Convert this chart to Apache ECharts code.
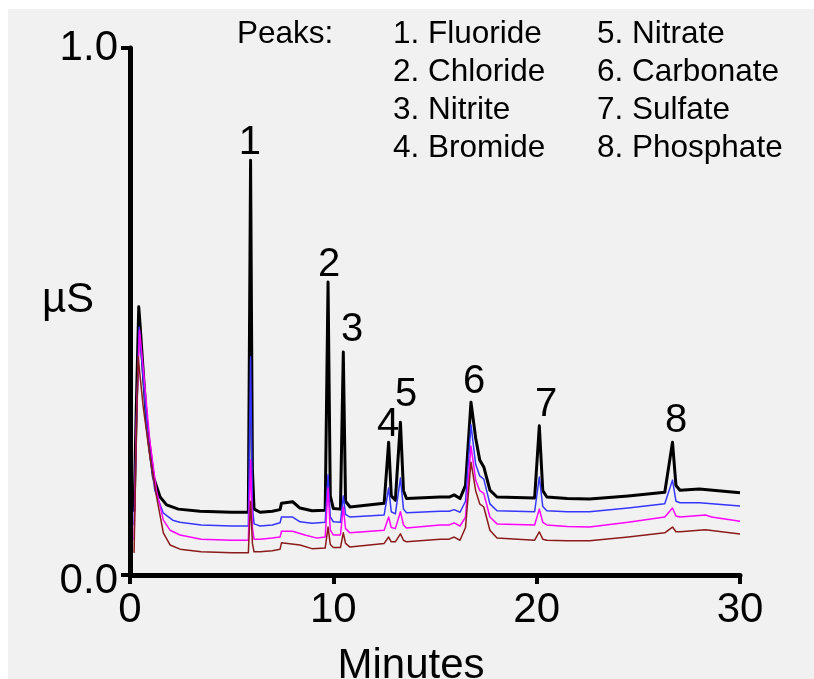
<!DOCTYPE html>
<html>
<head>
<meta charset="utf-8">
<script src="https://cdn.jsdelivr.net/npm/echarts@6/dist/echarts.min.js"></script>
<style>
html,body{margin:0;padding:0;background:#fff;}
#c{width:814px;height:679px;}
</style>
</head>
<body>
<div id="c"></div>
<script>
// ---- data (time in minutes, response in µS) ----
var xTicks = [0, 10, 20, 30];
var yTicks = [0.0, 1.0];

var traceBlack = [[0.2,0.12],[0.3,0.30],[0.43,0.509],[0.49,0.478],[0.82,0.288],[1.15,0.186],[1.48,0.148],[1.8,0.133],[2.38,0.125],[3.44,0.121],[5.0,0.119],[5.82,0.119],
[5.93,0.787],[6.02,0.2],[6.1,0.125],[6.4,0.119],[7.0,0.121],[7.38,0.124],[7.45,0.136],[8.0,0.139],[8.36,0.127],[8.95,0.122],[9.6,0.123],
[9.74,0.556],[9.85,0.15],[10.0,0.126],[10.35,0.125],[10.49,0.423],[10.6,0.14],[10.82,0.129],[12.5,0.136],[12.72,0.252],[12.85,0.15],[13.05,0.142],[13.3,0.29],[13.45,0.16],[13.6,0.145],
[15.25,0.148],[15.7,0.148],[15.94,0.152],[16.23,0.145],[16.5,0.17],[16.77,0.328],[17.0,0.26],[17.2,0.218],[17.4,0.205],[17.7,0.161],[18.05,0.148],[19.9,0.146],
[20.13,0.283],[20.3,0.16],[20.5,0.148],[21.5,0.145],[22.6,0.144],[24.5,0.15],[26.3,0.157],[26.68,0.252],[26.85,0.17],[27.05,0.161],[28.0,0.163],[30,0.156]];

var traceBlue = [[0.2,0.095],[0.32,0.3],[0.45,0.47],[0.55,0.42],[0.9,0.25],[1.22,0.161],[1.63,0.118],[2.1,0.104],[2.45,0.1],[3.5,0.095],[5.0,0.093],[5.82,0.093],
[5.93,0.414],[6.02,0.13],[6.1,0.097],[6.4,0.093],[7.0,0.095],[7.38,0.099],[7.45,0.110],[8.0,0.11],[8.36,0.101],[8.95,0.098],[9.6,0.1],
[9.74,0.19],[9.85,0.11],[10.0,0.101],[10.35,0.1],[10.49,0.15],[10.6,0.115],[10.82,0.11],[12.5,0.114],[12.72,0.165],[12.85,0.12],[13.05,0.116],[13.3,0.184],[13.45,0.125],[13.6,0.118],
[15.25,0.121],[15.7,0.121],[15.94,0.124],[16.23,0.119],[16.5,0.14],[16.77,0.285],[17.0,0.21],[17.2,0.188],[17.4,0.182],[17.7,0.135],[18.05,0.122],[19.9,0.12],
[20.13,0.186],[20.3,0.13],[20.5,0.122],[21.5,0.12],[22.6,0.12],[24.5,0.127],[26.3,0.135],[26.68,0.18],[26.85,0.14],[27.05,0.137],[28.0,0.137],[30,0.131]];

var traceMagenta = [[0.2,0.066],[0.32,0.3],[0.47,0.465],[0.68,0.38],[0.97,0.256],[1.3,0.161],[1.64,0.104],[1.97,0.085],[2.46,0.076],[3.5,0.068],[5.0,0.066],[5.82,0.066],
[5.93,0.218],[6.02,0.09],[6.1,0.068],[6.4,0.068],[7.0,0.07],[7.38,0.072],[7.45,0.083],[8.0,0.083],[8.6,0.076],[9.2,0.07],[9.6,0.072],
[9.74,0.165],[9.85,0.085],[10.0,0.076],[10.35,0.076],[10.49,0.129],[10.6,0.088],[10.82,0.08],[12.5,0.085],[12.72,0.11],[12.85,0.09],[13.05,0.088],[13.3,0.12],[13.45,0.095],[13.6,0.089],
[15.25,0.095],[15.7,0.095],[15.94,0.099],[16.23,0.093],[16.5,0.11],[16.77,0.245],[17.0,0.18],[17.2,0.16],[17.4,0.155],[17.7,0.11],[18.05,0.097],[19.9,0.095],
[20.13,0.125],[20.3,0.1],[20.5,0.095],[21.5,0.092],[22.6,0.091],[24.5,0.1],[26.3,0.11],[26.68,0.127],[26.85,0.112],[27.05,0.11],[28.3,0.114],[28.6,0.11],[30,0.102]];

var traceDarkRed = [[0.2,0.042],[0.3,0.25],[0.4,0.414],[0.65,0.319],[0.98,0.224],[1.31,0.148],[1.64,0.080],[1.97,0.057],[2.46,0.049],[3.5,0.044],[5.0,0.042],[5.82,0.042],
[5.93,0.14],[6.02,0.06],[6.1,0.044],[6.4,0.044],[7.0,0.046],[7.38,0.049],[7.45,0.061],[8.36,0.057],[8.95,0.05],[9.6,0.051],
[9.74,0.091],[9.85,0.058],[10.0,0.052],[10.35,0.052],[10.49,0.08],[10.6,0.06],[10.82,0.053],[12.5,0.06],[12.72,0.072],[12.85,0.063],[13.05,0.063],[13.3,0.078],[13.45,0.066],[13.6,0.063],
[15.25,0.068],[15.7,0.068],[15.94,0.072],[16.23,0.066],[16.5,0.09],[16.77,0.214],[17.0,0.16],[17.2,0.135],[17.4,0.129],[17.7,0.085],[18.05,0.07],[19.9,0.066],
[20.13,0.082],[20.3,0.068],[20.5,0.066],[21.5,0.065],[22.6,0.065],[24.5,0.072],[26.3,0.08],[26.68,0.091],[26.85,0.082],[27.05,0.082],[28.3,0.086],[30,0.078]];

// peak number labels: [time, response, text]
var peakLabels = [[5.90,0.820,'1'],[9.79,0.588,'2'],[10.92,0.465,'3'],[12.69,0.285,'4'],[13.58,0.342,'5'],[16.92,0.366,'6'],[20.46,0.323,'7'],[26.86,0.292,'8']];

var legendTitle = 'Peaks:';
var legendCol1 = ['1. Fluoride','2. Chloride','3. Nitrite','4. Bromide'];
var legendCol2 = ['5. Nitrate','6. Carbonate','7. Sulfate','8. Phosphate'];

// ---- chart ----
var FONT = '"Liberation Sans", Arial, Helvetica, sans-serif';
var chart = echarts.init(document.getElementById('c'), null, {renderer:'canvas'});

var LF = 31.5, ROW = 38, ROW0 = 34;
var graphics = [{type:'rect', z:-10, shape:{x:8,y:9,width:806,height:670}, style:{fill:'#f1f1f1'}}];
graphics.push({type:'text', x:237, y:ROW0, style:{text:legendTitle, font:LF+'px '+FONT, fill:'#000', textVerticalAlign:'middle', verticalAlign:'middle'}});
legendCol1.forEach(function(t,i){graphics.push({type:'text', x:393, y:ROW0+ROW*i, style:{text:t, font:LF+'px '+FONT, fill:'#000', textVerticalAlign:'middle', verticalAlign:'middle'}});});
legendCol2.forEach(function(t,i){graphics.push({type:'text', x:597, y:ROW0+ROW*i, style:{text:t, font:LF+'px '+FONT, fill:'#000', textVerticalAlign:'middle', verticalAlign:'middle'}});});

function lineSeries(data, color, w){
  return {type:'line', data:data, showSymbol:false, symbol:'none', smooth:false, animation:false,
    lineStyle:{color:color, width:w, join:'round'}, silent:true};
}

chart.setOption({
  backgroundColor:'#ffffff',
  animation:false,
  textStyle:{fontFamily:FONT},
  grid:{left:130, right:74, top:48, bottom:104, containLabel:false, outerBoundsMode:'none'},
  xAxis:{type:'value', min:0, max:30, interval:10,
    name:'Minutes', nameLocation:'middle', nameGap:70,
    nameTextStyle:{fontSize:42, color:'#000', fontFamily:FONT, padding:[0,48,0,0]},
    axisLine:{show:true, onZero:false, lineStyle:{color:'#000', width:5}},
    axisTick:{show:true, length:9, lineStyle:{color:'#000', width:4}},
    axisLabel:{fontSize:42, color:'#000', margin:14, fontFamily:FONT},
    splitLine:{show:false}},
  yAxis:{type:'value', min:0, max:1, interval:1,
    name:'µS', nameLocation:'middle', nameGap:62, nameRotate:0, nameMoveOverlap:false,
    nameTextStyle:{fontSize:42, color:'#000', fontFamily:FONT, align:'center', verticalAlign:'bottom', lineHeight:22},
    axisLine:{show:true, onZero:false, lineStyle:{color:'#000', width:5}},
    axisTick:{show:true, length:9, lineStyle:{color:'#000', width:4}},
    axisLabel:{fontSize:42, color:'#000', margin:12, fontFamily:FONT,
      formatter:function(v){return v === 0 ? '{low|' + v.toFixed(1) + '}' : v.toFixed(1);},
      rich:{low:{fontSize:42, color:'#000', fontFamily:FONT, padding:[12,0,0,0]}}},
    splitLine:{show:false}},
  graphic:graphics,
  series:[
    lineSeries(traceBlack,'#000000',3),
    lineSeries(traceBlue,'#3535ff',1.5),
    lineSeries(traceMagenta,'#ff00ff',1.5),
    lineSeries(traceDarkRed,'#8b1a1a',1.5),
    {type:'scatter', data:peakLabels.map(function(p){return [p[0],p[1],p[2]];}), symbolSize:0, silent:true, z:5,
      itemStyle:{opacity:1},
      label:{show:true, position:[0,0], align:'center', verticalAlign:'middle', formatter:function(p){return p.value[2];},
        fontSize:40, color:'#000000', opacity:1, textBorderWidth:0, fontFamily:FONT}}
  ]
});
</script>
</body>
</html>
